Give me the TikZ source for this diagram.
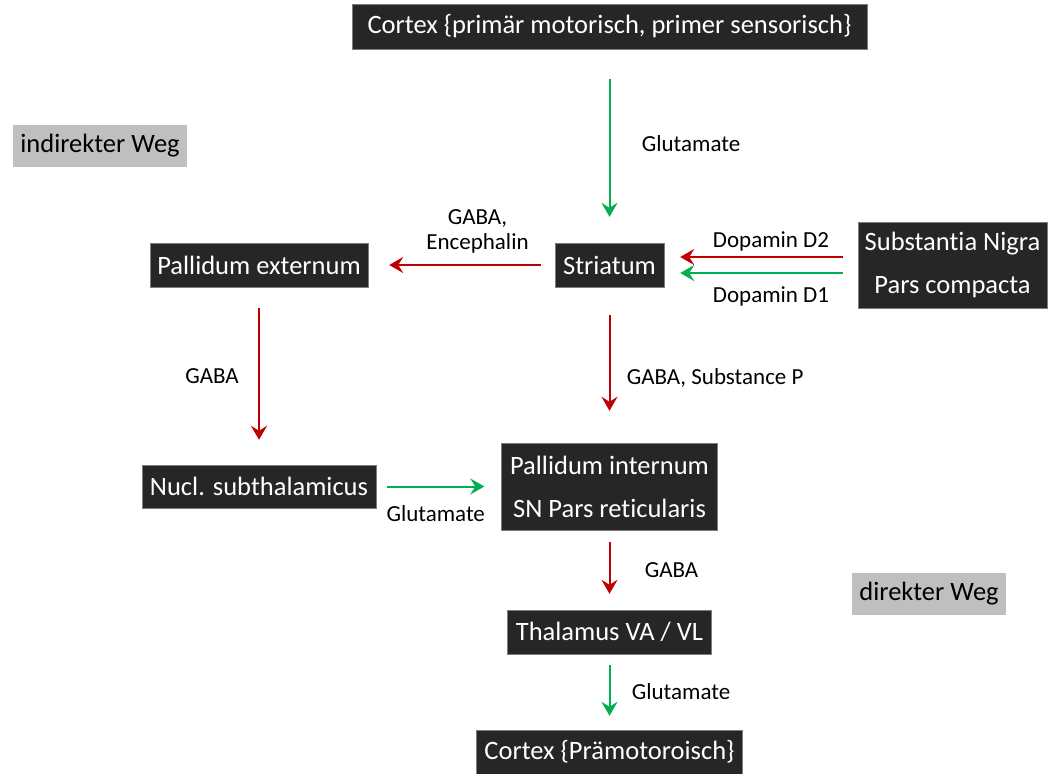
\documentclass[tikz,border=0pt]{standalone}
\usepackage{fontspec}
\setmainfont{Carlito}[Ligatures=NoCommon]
\usetikzlibrary{arrows.meta}
\definecolor{boxdark}{HTML}{262626}
\definecolor{boxgrey}{HTML}{BFBFBF}
\definecolor{inhib}{HTML}{C00000}
\definecolor{excit}{HTML}{00B050}

\begin{document}
\begin{tikzpicture}[x=1pt,y=-1pt,
  area/.style={fill=boxdark,draw=boxdark!60,text=white,inner sep=0pt,
    align=center,font=\fontsize{26.5}{43}\selectfont},
  waybox/.style={fill=boxgrey,text=black,inner sep=0pt,
    font=\fontsize{26.5}{30}\selectfont},
  gaba/.style={draw=inhib,line width=2pt,-{Stealth[length=14pt,width=16pt,inset=5pt]}},
  glu/.style={draw=excit,line width=2pt,-{Stealth[length=14pt,width=16pt,inset=5pt]}},
  lbl/.style={text=black,align=center,font=\fontsize{23}{25}\selectfont}]
  \useasboundingbox (0,0) rectangle (1058,774);
  % nuclei
  \node[area,minimum width=515,minimum height=45] (ctx) at (609.5,26.5)
    {Cortex \{primär motorisch, primer sensorisch\}};
  \node[area,minimum width=109,minimum height=44] (str) at (609.5,265) {Striatum};
  \node[area,minimum width=218,minimum height=44] (pe) at (259,265) {Pallidum externum};
  \node[area,minimum width=189,minimum height=86] (snc) at (952.5,265)
    {Substantia Nigra\\Pars compacta};
  \node[area,minimum width=234,minimum height=43] (nst) at (259,486.5) {Nucl. subthalamicus};
  \node[area,minimum width=216,minimum height=87] (gpi) at (609.5,486.5)
    {Pallidum internum\\SN Pars reticularis};
  \node[area,minimum width=204,minimum height=44] (tha) at (609.5,632) {Thalamus VA / VL};
  \node[area,minimum width=266,minimum height=44] (ctx2) at (609.5,752)
    {Cortex \{Prämotoroisch\}};
  % pathway tags
  \node[waybox,minimum width=174,minimum height=42] (ind) at (100,146) {indirekter Weg};
  \node[waybox,minimum width=154,minimum height=42] (dir) at (929,594) {direkter Weg};
  % projections
  \draw[glu,shorten <=30pt,shorten >=26pt] (ctx) -- (str)
    node[lbl,midway,right=28pt,yshift=2pt] {Glutamate};
  \draw[gaba,shorten <=14pt,shorten >=21pt] (str) -- (pe)
    node[lbl,midway,above=7pt,xshift=16pt] {GABA,\\Encephalin};
  \draw[gaba,shorten <=15pt,shorten >=16pt] ([yshift=8pt]snc.west) -- ([yshift=8pt]str.east)
    node[lbl,midway,above=1pt,xshift=10pt] {Dopamin D2};
  \draw[glu,shorten <=15pt,shorten >=16pt] ([yshift=-8pt]snc.west) -- ([yshift=-8pt]str.east)
    node[lbl,midway,below=9pt,xshift=10pt] {Dopamin D1};
  \draw[gaba,shorten <=28pt,shorten >=32pt] (str) -- (gpi)
    node[lbl,midway,right=13pt,yshift=-13pt] {GABA, Substance P};
  \draw[gaba,shorten <=21pt,shorten >=25pt] (pe) -- (nst)
    node[lbl,midway,left=16pt] {GABA};
  \draw[glu,shorten <=11pt,shorten >=17pt] (nst) -- (gpi)
    node[lbl,midway,below=15pt,xshift=-3pt] {Glutamate};
  \draw[gaba,shorten <=12pt,shorten >=16pt] (gpi) -- (tha)
    node[lbl,midway,right=31pt] {GABA};
  \draw[glu,shorten <=11pt,shorten >=14pt] (tha) -- (ctx2)
    node[lbl,midway,right=18pt] {Glutamate};
\end{tikzpicture}
\end{document}
